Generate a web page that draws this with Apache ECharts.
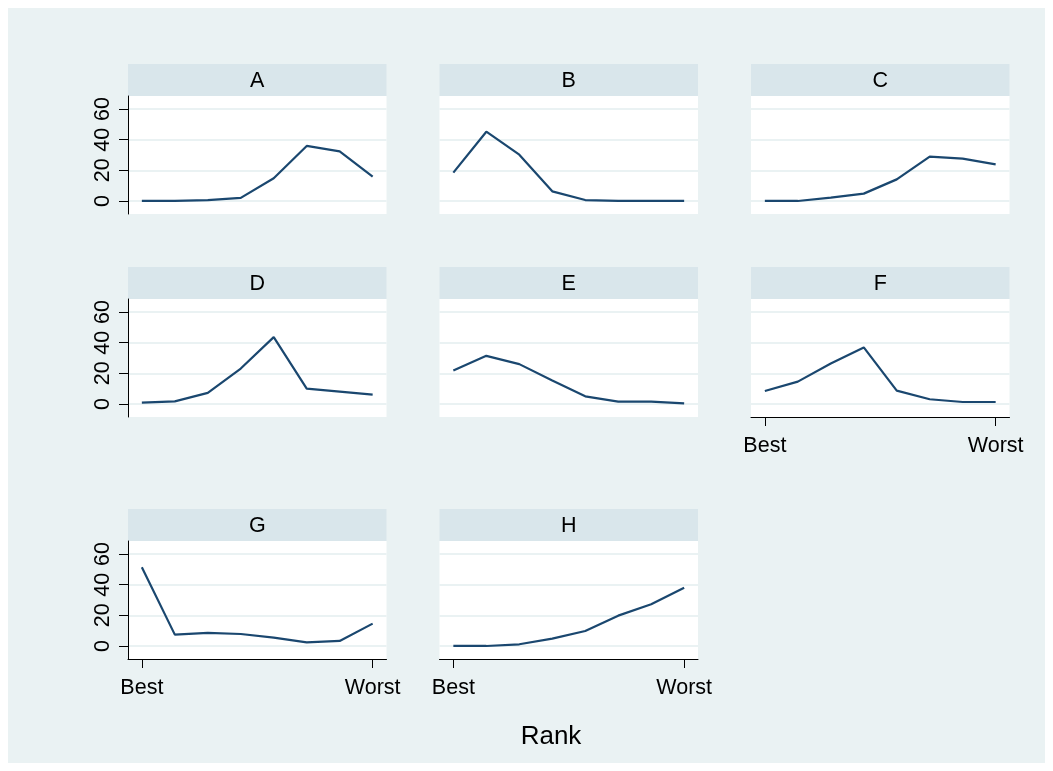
<!DOCTYPE html>
<html>
<head>
<meta charset="utf-8">
<script src="https://cdn.jsdelivr.net/npm/echarts@6/dist/echarts.min.js"></script>
<style>
html,body{margin:0;padding:0;background:#fff;}
#chart{width:1053px;height:771px;}
</style>
</head>
<body>
<div id="chart"></div>
<script>
// ---- data ----
const panelNames = ['A','B','C','D','E','F','G','H'];
const ranks = [1,2,3,4,5,6,7,8];
const xTickValues = [1, 8];
const xTickLabels = ['Best', 'Worst'];
const yTickValues = [0, 20, 40, 60];
const seriesA = [0, 0, 0.6, 2.0, 14.8, 35.9, 32.4, 15.9];
const seriesB = [18.5, 45.2, 30.2, 6.3, 0.6, 0, 0, 0];
const seriesC = [0, 0, 2.2, 4.8, 14.1, 28.9, 27.6, 23.9];
const seriesD = [0.9, 1.7, 7.2, 23.1, 43.6, 10.0, 8.1, 6.1];
const seriesE = [21.8, 31.4, 26.0, 15.3, 5.0, 1.5, 1.5, 0.4];
const seriesF = [8.5, 14.6, 26.4, 36.9, 8.7, 3.1, 1.3, 1.3];
const seriesG = [51.3, 7.4, 8.5, 7.8, 5.4, 2.4, 3.3, 14.6];
const seriesH = [0, 0, 1.1, 4.8, 9.8, 19.8, 27.2, 38.0];
const allSeries = [seriesA, seriesB, seriesC, seriesD, seriesE, seriesF, seriesG, seriesH];
const xTitle = 'Rank';

// ---- layout ----
const FONT = '"Liberation Sans", Arial, sans-serif';
const BG = '#eaf2f3';
const STRIP = '#d9e6eb';
const LINE = '#1a476f';
const colLeft = [128, 439.5, 751];
const plotW = 258.5;
const rowTop = [96, 299, 541];
const plotH = 118;
const stripH = 32;
const showY = [true,false,false,true,false,false,true,false];
const showX = [false,false,false,false,false,true,true,true];

const grids = [], xAxes = [], yAxes = [], series = [], graphics = [];

graphics.push({type:'rect', z:-100, shape:{x:8,y:8,width:1037,height:755}, style:{fill:BG}, silent:true});

panelNames.forEach((name, i) => {
  const r = Math.floor(i/3), c = i%3;
  const left = colLeft[c], top = rowTop[r];
  grids.push({left:left, top:top, width:plotW, height:plotH, show:true, backgroundColor:'#fff', borderWidth:0, containLabel:false});
  xAxes.push({
    type:'value', gridIndex:i, min:0.58, max:8.42,
    splitLine:{show:false},
    axisLine:{show:showX[i], onZero:false, lineStyle:{color:'#000', width:1}},
    axisTick:{show:showX[i], length:9, customValues:xTickValues, lineStyle:{color:'#000', width:1}},
    axisLabel:{show:showX[i], customValues:xTickValues, margin:18, fontSize:21.5, color:'#000', fontFamily:FONT,
      formatter:(v)=> xTickLabels[xTickValues.indexOf(v)] || ''}
  });
  yAxes.push({
    type:'value', gridIndex:i, min:-8.5, max:68.5,
    splitLine:{show:true, lineStyle:{color:BG, width:2}},
    axisLine:{show:showY[i], onZero:false, lineStyle:{color:'#000', width:1}},
    axisTick:{show:showY[i], length:9, customValues:yTickValues, lineStyle:{color:'#000', width:1}},
    axisLabel:{show:showY[i], customValues:yTickValues, rotate:90, margin:14, fontSize:21.5, color:'#000', fontFamily:FONT}
  });
  series.push({
    type:'line', xAxisIndex:i, yAxisIndex:i,
    data: ranks.map((rk, j) => [rk, allSeries[i][j]]),
    showSymbol:false, symbol:'none', smooth:false,
    lineStyle:{color:LINE, width:2.2}, silent:true, animation:false
  });
  graphics.push({type:'rect', shape:{x:left, y:top-stripH, width:plotW, height:stripH}, style:{fill:STRIP}, silent:true});
  graphics.push({type:'text', x:left+plotW/2, y:top-stripH/2+1, style:{text:name, fill:'#000', font:'21.5px '+FONT, textAlign:'center', textVerticalAlign:'middle'}, silent:true});
});

graphics.push({type:'text', x:551, y:737, style:{text:xTitle, fill:'#000', font:'26px '+FONT, textAlign:'center', textVerticalAlign:'middle'}, silent:true});

const chart = echarts.init(document.getElementById('chart'), null, {renderer:'canvas'});
chart.setOption({
  animation:false,
  backgroundColor:'#fff',
  grid:grids, xAxis:xAxes, yAxis:yAxes, series:series,
  graphic:{elements:graphics}
});
</script>
</body>
</html>
